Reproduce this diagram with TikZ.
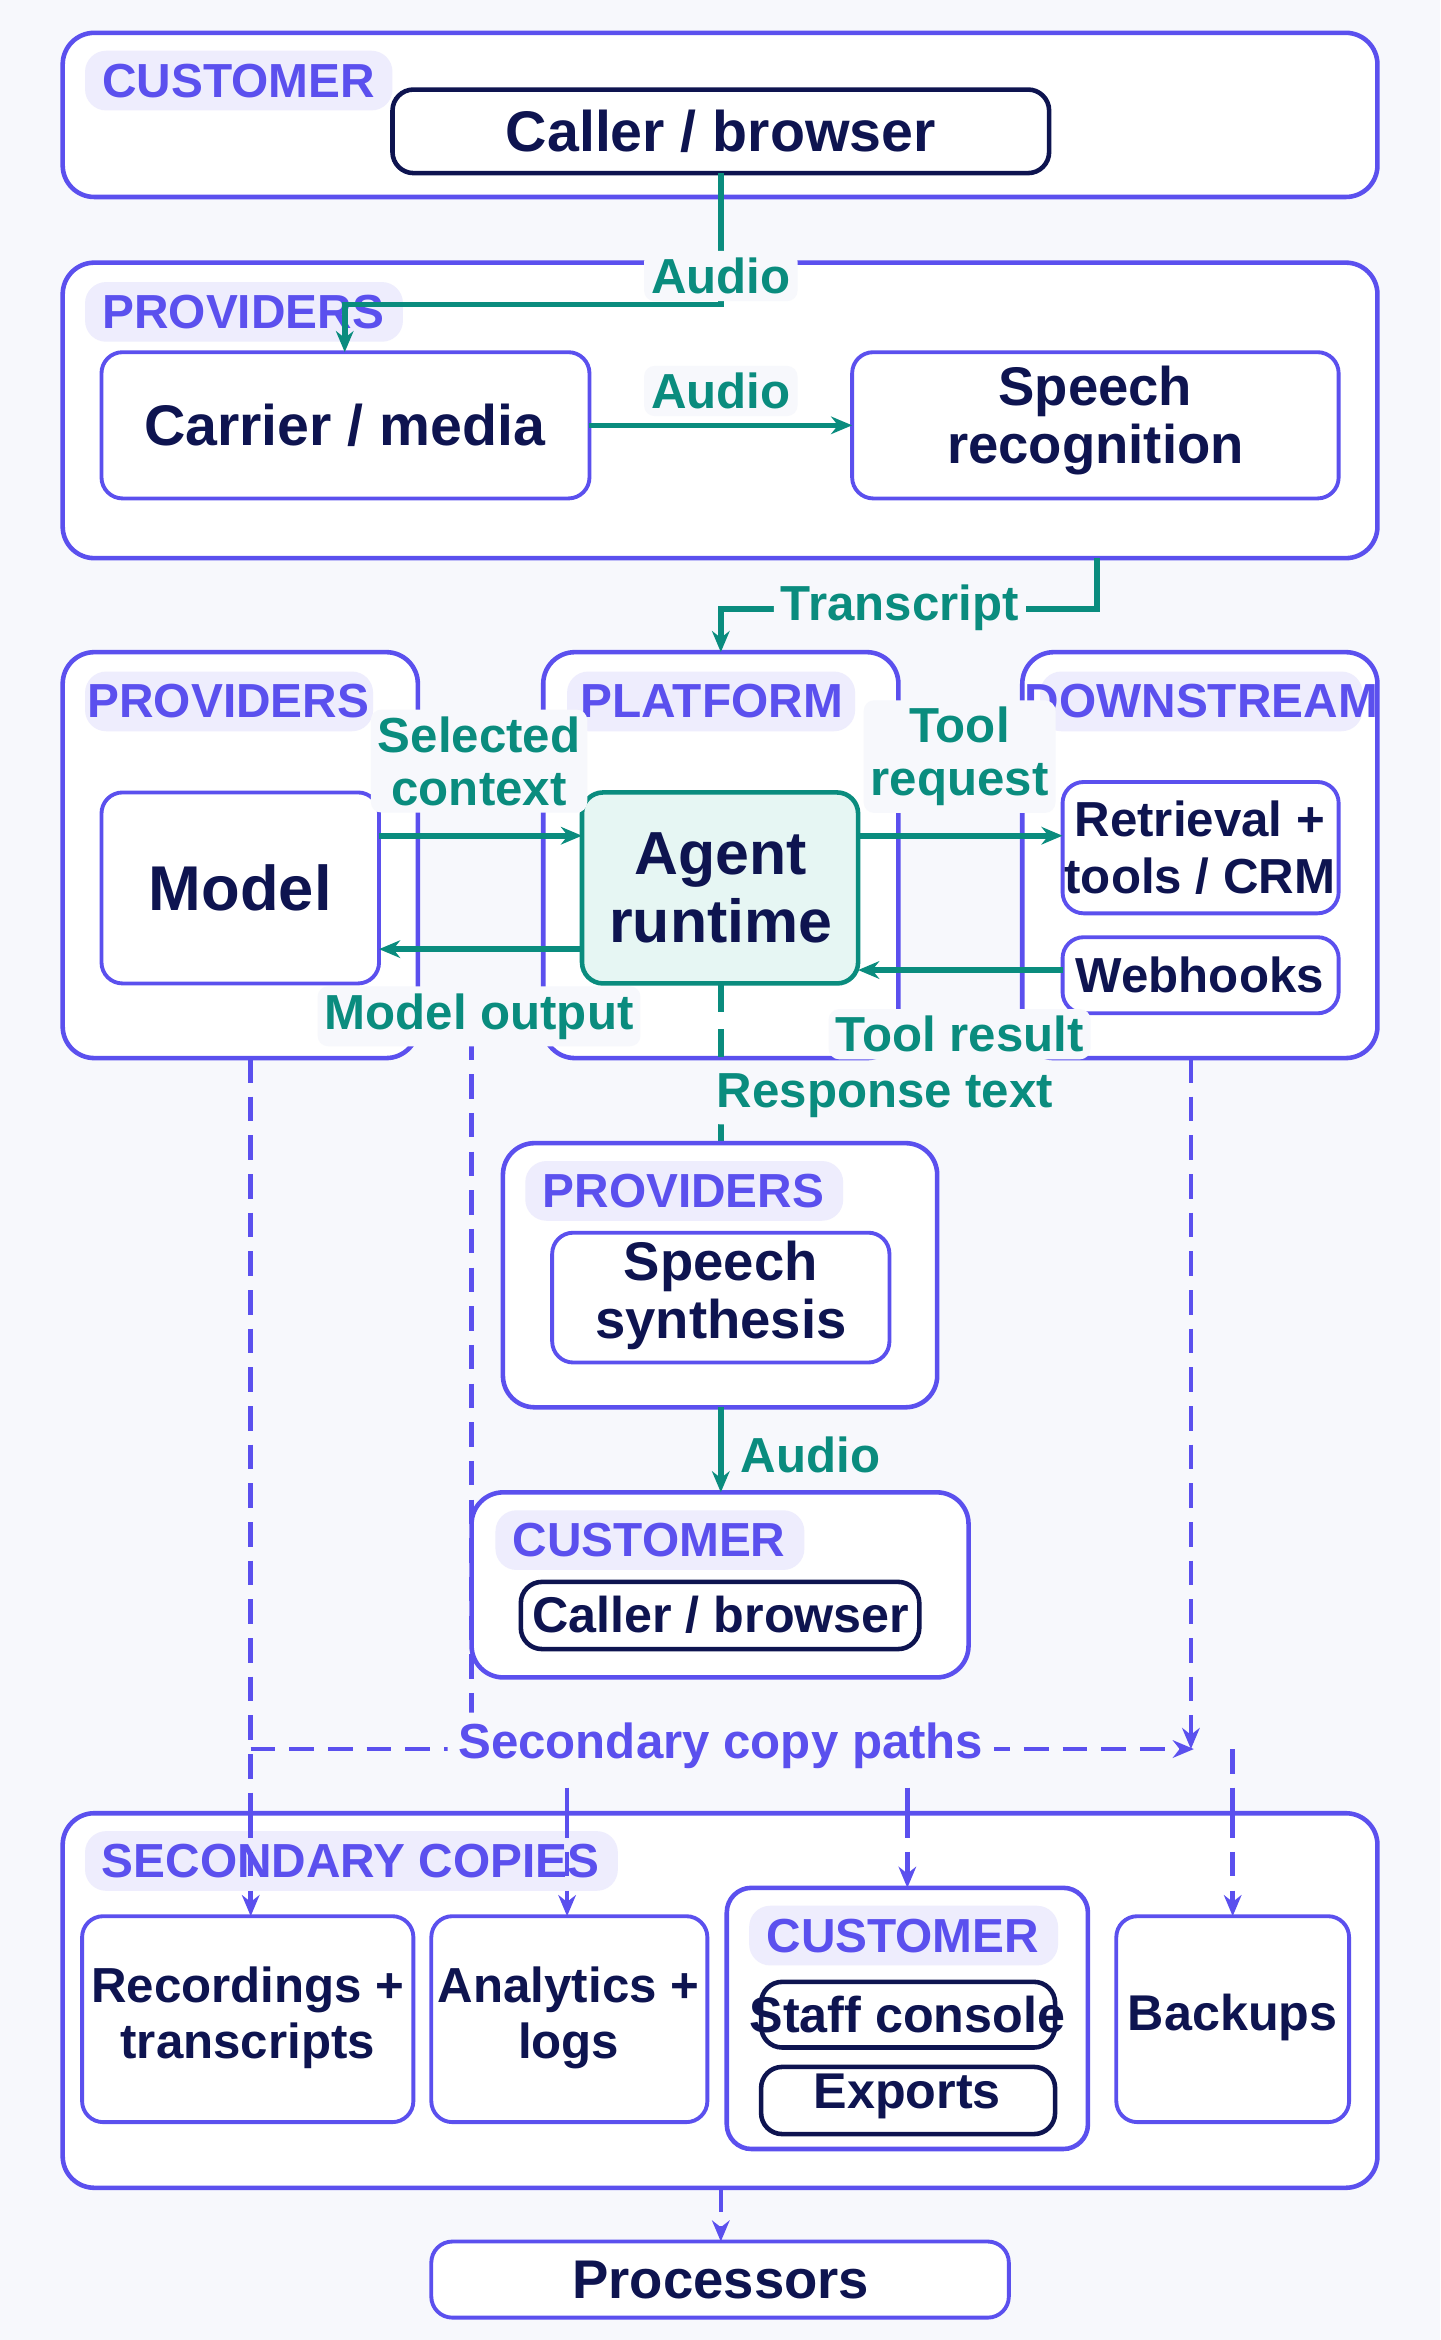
\documentclass[tikz,border=0pt]{standalone}
\usepackage{fontspec}
\setmainfont{Liberation Sans}
\usetikzlibrary{arrows.meta,positioning}
\definecolor{pur}{HTML}{5B50EE}
\definecolor{teal2}{HTML}{0A8C7E}
\definecolor{navy}{HTML}{0E1450}
\definecolor{chip}{HTML}{EEEDFD}
\definecolor{bgc}{HTML}{F7F8FC}
\definecolor{agentf}{HTML}{E6F6F3}
\begin{document}
\begin{tikzpicture}[x=0.014925cm,y=-0.014925cm,
  grp/.style={draw=pur,line width=1.3pt,fill=white,rounded corners=9pt},
  chipbox/.style={fill=chip,rounded corners=6pt},
  chiptxt/.style={text=pur,font=\bfseries\fontsize{13.6}{15}\selectfont},
  box/.style={draw=pur,line width=1.1pt,fill=white,rounded corners=6pt},
  dbox/.style={draw=navy,line width=1.3pt,fill=white,rounded corners=6pt},
  txt/.style={text=navy,font=\bfseries\fontsize{15}{16}\selectfont,align=center},
  tarr/.style={draw=teal2,line width=1.6pt,-{Stealth[length=6pt,width=5pt]}},
  tlab/.style={fill=bgc,text=teal2,font=\bfseries\fontsize{14}{15}\selectfont,align=center,inner sep=2pt,rounded corners=3pt},
  parr/.style={draw=pur,line width=1.3pt,dash pattern=on 7pt off 4pt,-{Stealth[length=6pt,width=5pt]}},
  pline/.style={draw=pur,line width=1.3pt,dash pattern=on 7pt off 4pt},
  plab/.style={fill=bgc,text=pur,font=\bfseries\fontsize{14}{15}\selectfont,inner sep=3pt,rounded corners=3pt}]
\fill[bgc] (0,0) rectangle (965,1568);
\useasboundingbox (0,0) rectangle (965,1568);
% Row 1
\draw[grp] (42,22) rectangle (923,132);
\fill[chipbox] (57,34) rectangle (263,74);
\node[chiptxt] (lc1) at (160,54) {CUSTOMER};
\draw[dbox] (263,60) rectangle (703,116);
\node[txt,font=\bfseries\fontsize{16.3}{18}\selectfont] (caller1) at (483,88) {Caller / browser};
\coordinate (caller1b) at (483,116);
% Row 2
\draw[grp] (42,176) rectangle (923,374);
\fill[chipbox] (57,189) rectangle (270,229);
\node[chiptxt] (lp1) at (163,209) {PROVIDERS};
\draw[box] (68,236) rectangle (395,334);
\node[txt,font=\bfseries\fontsize{16.3}{18}\selectfont] (carrier) at (231,285) {Carrier / media};
\draw[box] (571,236) rectangle (897,334);
\node[txt,font=\bfseries\fontsize{15.5}{16.5}\selectfont] (asr) at (734,282) {Speech\\recognition};
\coordinate (carrierT) at (231,236);
\coordinate (carrierR) at (395,285);
\coordinate (asrL) at (571,285);
\draw[tarr] (caller1b) -- (483,204) -- (231,204) -- (carrierT);
\node[tlab] (la1) at (483,185) {Audio};
\draw[tarr] (carrierR) -- (asrL);
\node[tlab] (la2) at (483,262) {Audio};
% Row 3
\draw[grp] (42,437) rectangle (280,709);
\draw[grp] (364,437) rectangle (602,709);
\draw[grp] (685,437) rectangle (923,709);
\coordinate (asrB) at (735,374);
\coordinate (platT) at (483,437);
\draw[tarr] (asrB) -- (735,408) -- (483,408) -- (platT);
\node[tlab] (lt) at (603,407) {Transcript};
\fill[chipbox] (57,450) rectangle (250,490);
\node[chiptxt] (lp2) at (153,470) {PROVIDERS};
\fill[chipbox] (380,450) rectangle (573,490);
\node[chiptxt] (lpl) at (477,470) {PLATFORM};
\fill[chipbox] (697,450) rectangle (913,490);
\node[chiptxt] (lds) at (805,470) {DOWNSTREAM};
\draw[box] (68,531) rectangle (254,659);
\node[txt,font=\bfseries\fontsize{18}{20}\selectfont] (model) at (161,595) {Model};
\draw[draw=teal2,line width=1.3pt,fill=agentf,rounded corners=6pt] (390,531) rectangle (575,659);
\node[txt,font=\bfseries\fontsize{17.3}{19.5}\selectfont] (agent) at (483,595) {Agent\\runtime};
\draw[box] (712,524) rectangle (897,612);
\node[txt,font=\bfseries\fontsize{14}{16}\selectfont] (retr) at (804,568) {Retrieval +\\tools / CRM};
\draw[box] (712,628) rectangle (897,679);
\node[txt,font=\bfseries\fontsize{14}{16}\selectfont] (web) at (804,653) {Webhooks};
\draw[tarr] (254,560) -- (390,560);
\draw[tarr] (390,636) -- (254,636);
\draw[tarr] (575,560) -- (712,560);
\draw[tarr] (712,650) -- (575,650);
\node[tlab] (lsc) at (321,510) {Selected\\context};
\node[tlab] (lto) at (643,507) {Tool\\request};
% secondary dashed
\draw[parr] (168,709) -- (168,1284);
\draw[pline] (316,668) -- (316,1172);
\draw[parr] (798,709) -- (798,1172);
\draw[parr] (168,1172) -- (800,1172);
\draw[parr] (380,1172) -- (380,1284);
\draw[parr] (608,1172) -- (608,1284);
\draw[parr] (826,1172) -- (826,1284);
\node[tlab] (lmo) at (321,681) {Model output};
\node[tlab] (ltr) at (643,693) {Tool result};
% speech synthesis
\coordinate (agentB) at (483,659);
\draw[teal2,line width=1.6pt,dash pattern=on 8pt off 5pt] (agentB) -- (483,766);
\node[tlab] (lrt) at (593,734) {Response text};
\draw[grp] (337,766) rectangle (628,943);
\fill[chipbox] (352,778) rectangle (565,818);
\node[chiptxt] (lp3) at (458,798) {PROVIDERS};
\draw[box] (370,826) rectangle (596,913);
\node[txt,font=\bfseries\fontsize{15.5}{16.5}\selectfont] (tts) at (483,868) {Speech\\synthesis};
\draw[grp] (316,1000) rectangle (649,1124);
\draw[tarr] (483,943) -- (483,1000);
\node[tlab,fill=none] (la3) at (543,975) {Audio};
\fill[chipbox] (332,1012) rectangle (539,1052);
\node[chiptxt] (lc2) at (435,1032) {CUSTOMER};
\draw[dbox] (349,1060) rectangle (616,1105);
\node[txt,font=\bfseries\fontsize{14.3}{16}\selectfont] (caller2) at (483,1082) {Caller / browser};
\node[plab] (lsp) at (483,1170) {Secondary copy paths};
% Secondary copies
\draw[grp] (42,1215) rectangle (923,1466);
\fill[chipbox] (57,1227) rectangle (414,1267);
\node[chiptxt] (lsec) at (235,1247) {SECONDARY COPIES};
\draw[parr] (168,1215) -- (168,1284);
\draw[parr] (380,1215) -- (380,1284);
\draw[parr] (608,1215) -- (608,1265);
\draw[parr] (826,1215) -- (826,1284);
\draw[box] (55,1284) rectangle (277,1422);
\node[txt,font=\bfseries\fontsize{14}{16}\selectfont] (rec) at (166,1352) {Recordings +\\transcripts};
\draw[box] (289,1284) rectangle (474,1422);
\node[txt,font=\bfseries\fontsize{14}{16}\selectfont] (ana) at (381,1352) {Analytics +\\logs};
\draw[grp,rounded corners=7pt] (487,1265) rectangle (729,1440);
\fill[chipbox] (502,1277) rectangle (709,1317);
\node[chiptxt] (lc3) at (605,1297) {CUSTOMER};
\draw[dbox] (510,1328) rectangle (707,1372);
\node[txt,font=\bfseries\fontsize{14.3}{16}\selectfont] (staff) at (608,1350) {Staff console};
\draw[dbox] (510,1385) rectangle (707,1430);
\node[txt,font=\bfseries\fontsize{14.3}{16}\selectfont] (exp) at (608,1405) {Exports};
\draw[box] (748,1284) rectangle (904,1422);
\node[txt,font=\bfseries\fontsize{14.3}{16}\selectfont] (back) at (826,1352) {Backups};
\draw[parr] (483,1466) -- (483,1502);
\draw[box] (289,1502) rectangle (676,1553);
\node[txt,font=\bfseries\fontsize{15.5}{17}\selectfont] (proc) at (483,1528) {Processors};
\end{tikzpicture}
\end{document}
